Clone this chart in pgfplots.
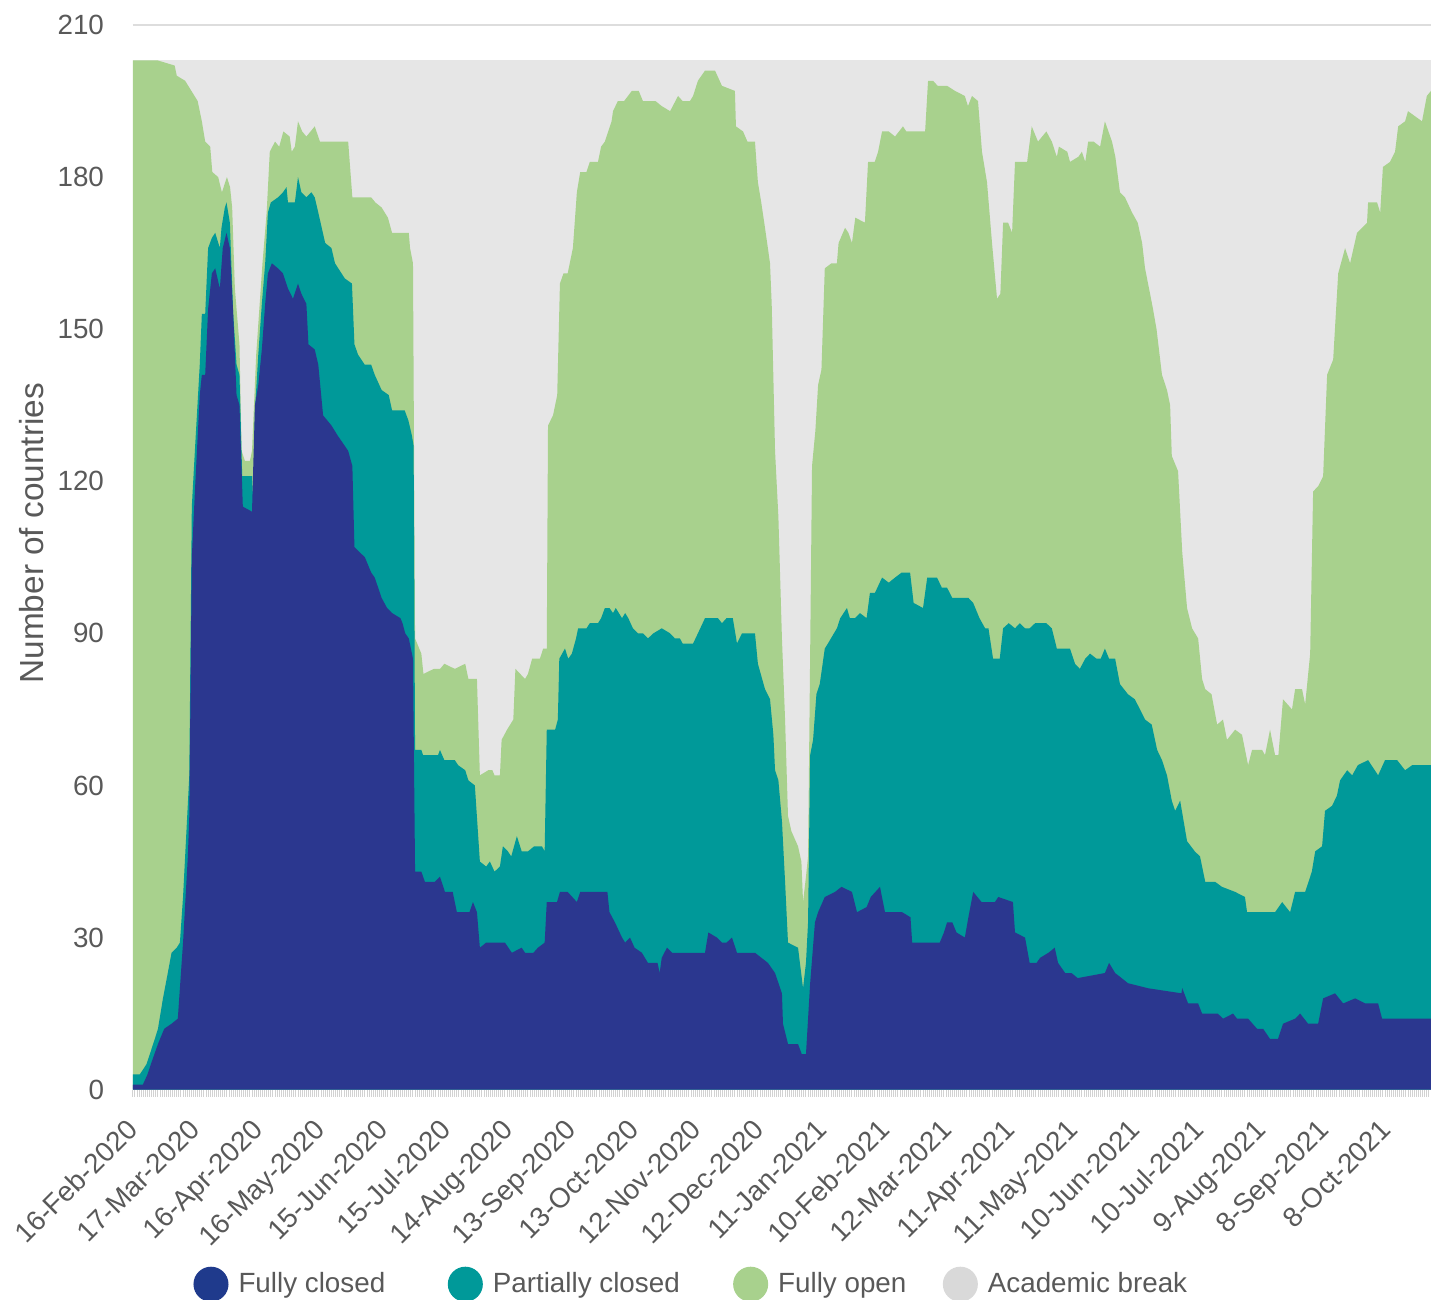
\documentclass[border=0pt]{standalone}
\usepackage{pgfplots}
\pgfplotsset{compat=1.18}
\usepackage{fontspec}
\setmainfont{Liberation Sans}
\usetikzlibrary{calc}
\definecolor{fcblue}{HTML}{2B378F}
\definecolor{pcteal}{HTML}{009999}
\definecolor{fogreen}{HTML}{A8D18D}
\definecolor{abgray}{HTML}{E6E6E6}
\definecolor{fcbluelegend}{HTML}{1F3A8C}
\definecolor{abgraylegend}{HTML}{D9D9D9}
\definecolor{labelgray}{HTML}{595959}
\definecolor{gridgray}{HTML}{DDDDDD}
\begin{document}
\begin{tikzpicture}
\begin{axis}[
  scale only axis, width=467pt, height=383pt,
  xmin=0, xmax=621, ymin=0, ymax=210,
  axis x line*=bottom, axis y line*=left,
  x axis line style={draw=gray!40},
  y axis line style={draw=none},
  ytick={0,30,...,210},
  ymajorgrids, grid style={draw=gridgray, line width=0.6pt},
  ytick style={draw=none},
  xtick={0,30,...,600},
  xticklabels={16-Feb-2020,17-Mar-2020,16-Apr-2020,16-May-2020,15-Jun-2020,15-Jul-2020,14-Aug-2020,13-Sep-2020,13-Oct-2020,12-Nov-2020,12-Dec-2020,11-Jan-2021,10-Feb-2021,12-Mar-2021,11-Apr-2021,11-May-2021,10-Jun-2021,10-Jul-2021,9-Aug-2021,8-Sep-2021,8-Oct-2021},
  minor xtick={0,1,...,621},
  tick align=outside,
  major tick length=2.6pt, minor tick length=2.6pt,
  xtick style={draw=gray!35, line width=0.35pt},
  minor tick style={draw=gray!35, line width=0.35pt},
  /pgf/number format/assume math mode=true,
  yticklabel style={font=\fontsize{10}{12}\selectfont, text=labelgray, inner sep=0pt, xshift=-7.6pt},
  xticklabel style={font=\fontsize{10}{12}\selectfont, text=labelgray, xshift=-2.9pt, yshift=-7.2pt, rotate=45, anchor=north east, inner sep=0pt},
  ylabel={Number of countries},
  ylabel style={font=\fontsize{12}{14}\selectfont, text=labelgray, at={(axis description cs:-0.0778,0.5226)}, anchor=center},
  legend style={at={(0.4318,0)}, anchor=center, yshift=-70pt, draw=none, fill=none,
    legend columns=4, font=\fontsize{10}{12}\selectfont, text=labelgray,
    /tikz/every even column/.append style={column sep=11.3pt}},
]
\addlegendimage{only marks, mark=*, mark size=6.1pt, color=fcbluelegend}
\addlegendentry{\hspace{1.8pt}Fully closed\kern9.4pt}
\addlegendimage{only marks, mark=*, mark size=6.1pt, color=pcteal}
\addlegendentry{\hspace{1.8pt}Partially closed\kern6.1pt}
\addlegendimage{only marks, mark=*, mark size=6.1pt, color=fogreen}
\addlegendentry{\hspace{1.8pt}Fully open}
\addlegendimage{only marks, mark=*, mark size=6.1pt, color=abgraylegend}
\addlegendentry{\hspace{1.8pt}Academic break}
% Academic break (total of all countries)
\addplot[fill=abgray, draw=none, forget plot] coordinates {(0,203)(621,203)} \closedcycle;
% Fully open + partially closed + fully closed
\addplot[fill=fogreen, draw=none, forget plot] coordinates {
(0,203)(12,203)(20,202)(21,200)(25,199)(28,197)(31,195)(33,191)(34.6,187)(37,186)(38,181)(40.8,180)(42.6,177)(45,180)(46.5,178)(47.5,174)(48.8,158)(51,147)(52,126)(53.6,124)(56,124)(57,126)(59,145)(62,163)(64,173)(65.5,185)(68,187)(70,186)(72,189)(75,188)(76,185)(77.5,186)(79,191)(81,189)(83,188)(85,189)(87,190)(89.5,187)(103,187)(105,176)(114,176)(116,175)(119,174)(122,172)(124,169)(132,169)(132.6,166)(134,163)(135,89)(138,86)(139,82)(144,83)(147,83)(149,84)(154,83)(159,84)(160.5,81)(164.6,81)(166,62)(170,63)(172,63)(173,62)(175.6,62)(176.4,69)(179,71)(182,73)(183,83)(187.6,81)(189,82)(191,85)(194.7,85)(196.3,87)(198,87)(198.6,131)(201,133)(203,137)(204.3,159)(206,161)(208,161)(210.5,166)(212.4,177)(214,181)(217,181)(218.6,183)(222.5,183)(224,186)(225.8,187)(229,191)(229.7,193)(232,195)(235,195)(238.7,197)(242,197)(244,195)(250,195)(253,194)(257,193)(260.8,196)(263,195)(266.5,195)(268,196)(270.3,199)(273.7,201)(278.5,201)(281.8,198)(288,197)(288.5,190)(291.9,189)(294,187)(297.6,187)(299,179)(300.6,175)(302.4,170)(304.8,163)(305.6,155)(307.2,126)(308.8,113)(310.5,89)(312,73)(313.4,54)(315,51)(318.2,48)(319.8,45)(320.6,37)(322,42)(323,46)(324,86)(324.9,123)(326.5,130)(327.8,139)(329.4,142)(331,162)(334.2,163)(336.8,163)(337.6,167)(340.7,170)(342.3,169)(344,167)(345.6,172)(350.2,171)(351.7,183)(354.9,183)(356.5,185)(358.4,189)(361.6,189)(364.6,188)(368.4,190)(370,189)(379,189)(380.4,199)(382.8,199)(385,198)(389.5,198)(393.3,197)(398,196)(399.5,194)(401.4,196)(404.3,195)(406.2,185)(408.6,179)(411,167)(413.4,156)(415,157)(416.3,171)(418.7,171)(420.6,169)(422,183)(427.8,183)(430,190)(433,187)(437,189)(439.6,187)(442,184)(443,186)(447,185)(448.3,183)(452.3,184)(454,185)(455.6,183)(457,187)(459.6,187)(462.7,186)(465,191)(468.4,187)(470,184)(472.2,177)(474.6,176)(478,173)(480.7,171)(482.8,167)(484.2,162)(486.6,157)(488,154)(489.7,150)(492.3,141)(494.7,138)(496.2,135)(497,125)(500,122)(502,106)(504.3,95)(506.7,91)(509.6,89)(511.5,81)(513,79)(516,78)(518.7,72)(521.5,73)(523.4,69)(527.3,71)(530.6,70)(533.5,64)(535.4,67)(540.2,67)(541.6,66)(544,71)(546.4,66)(548,66)(550.2,77)(554.5,75)(556,79)(559.3,79)(560.8,76)(563.2,86)(564.6,118)(567,119)(569.4,121)(571.3,141)(574.2,144)(576.6,161)(579.9,166)(582.3,163)(585.6,169)(590.4,171)(590.9,175)(595.2,175)(596.7,173)(598,182)(601.4,183)(603.8,185)(605.3,190)(608.6,191)(610,193)(616.7,191)(619,196)(621,197)
} \closedcycle;
% Partially closed + fully closed
\addplot[fill=pcteal, draw=none, forget plot] coordinates {
(0,3)(3.3,3)(6.5,5)(10.5,10)(12,12)(14.4,18)(16.7,23)(18.5,27)(21,28)(22.5,29)(24,38)(26,54)(27,62)(28.2,115)(29.8,127)(32,143)(33,153)(34.6,153)(36,166)(37.8,168)(39.4,169)(41.6,166)(42.4,170)(44,174)(44.8,175)(46.4,171)(48,153)(49.6,143)(51,141)(52.3,121)(57,121)(57.7,115)(58.4,134)(60,145)(61.7,155)(63.3,163)(64.6,173)(66,175)(69.4,176)(71.8,177)(73.5,178)(74.2,175)(77.5,175)(79,180)(80.6,177)(83,176)(85.4,177)(87,176)(88.7,173)(92,167)(95,166)(96.7,163)(101.4,160)(104.8,159)(106,147)(107.7,145)(110.9,143)(114,143)(115.7,141)(119,138)(122.4,137)(124,134)(130,134)(131.8,132)(133.5,129)(134.3,127)(135,67)(138,67)(138.8,66)(146,66)(146.9,67)(149,65)(154,65)(155.6,64)(159,63)(160.5,61)(163.6,60)(166,45)(169,44)(170.8,45)(173,43)(175.6,44)(177,48)(179.4,47)(181,46)(183.7,50)(186,47)(189,47)(192,48)(195.7,48)(197,47)(198,71)(202,71)(203.3,73)(204,85)(206.7,87)(208.3,85)(210,86)(212,89)(213,91)(217,91)(218.6,92)(222.5,92)(224,93)(225.8,95)(228,95)(229.7,94)(231,95)(234,93)(235.5,94)(237,93)(239.2,91)(241.6,90)(244,90)(246.4,89)(249,90)(253,91)(257,90)(259.3,89)(261.7,89)(263,88)(268,88)(270.3,90)(273.7,93)(279.9,93)(281.8,92)(284,93)(287,93)(289,88)(291.4,90)(297.6,90)(299,84)(302.4,79)(304.8,77)(306.4,70)(307.2,63)(308.8,61)(310.5,53)(312,41)(313.4,29)(318.2,28)(320.6,20)(322,25)(323,33)(324,66)(325.4,69)(327,78)(328.6,80)(331,87)(332.5,88)(336.8,91)(338.4,93)(341.6,95)(343,93)(345.5,93)(347.8,94)(351,93)(352.6,98)(355,98)(358.4,101)(361.6,100)(364.6,101)(367.8,102)(371.8,102)(373.5,96)(378,95)(380,101)(384.7,101)(387,99)(389.5,99)(392,97)(399.7,97)(402,96)(405,93)(407.7,91)(409.3,91)(411.5,85)(414.7,85)(416.3,91)(419,92)(422,91)(424.3,92)(426.8,91)(429,91)(431.6,92)(437,92)(439.6,91)(442,87)(448.3,87)(450.7,84)(453,83)(455.6,85)(457.9,86)(461,85)(463,85)(465,87)(467,85)(469.9,85)(472.2,80)(476,78)(479.3,77)(481.8,75)(484.2,73)(487.4,72)(490,67)(492.3,65)(494.7,62)(497,57)(498.6,55)(501,57)(504.3,49)(508,47)(510.5,46)(513,41)(517.7,41)(521,40)(527.3,39)(532,38)(533,35)(546.4,35)(549.8,37)(553.6,35)(556,39)(560.8,39)(564,43)(565.6,47)(568.9,48)(570.3,55)(573.7,56)(576,58)(577.5,61)(580.9,63)(583.3,62)(586,64)(590.9,65)(595.7,62)(599,65)(604.8,65)(608.6,63)(612,64)(621,64)
} \closedcycle;
% Fully closed
\addplot[fill=fcblue, draw=none, forget plot] coordinates {
(0,1)(4.8,1)(7,3)(8.6,5)(12,9)(15,12)(18.5,13)(21.5,14)(24,29)(26.3,46)(27,54)(28.2,105)(29.8,119)(32,137)(33,141)(34.6,141)(36,154)(37.8,161)(39.4,162)(41.6,158)(43,166)(44.8,169)(46.4,166)(48,153)(49.6,137)(51,135)(52.6,115)(57,114)(58.4,135)(60,139)(61.7,146)(63.3,155)(64.6,161)(66.5,163)(69.4,162)(71.8,161)(74.2,158)(76.6,156)(79,159)(80.6,157)(83,155)(84,147)(87,146)(88.7,143)(91,133)(95,131)(98,129)(103,126)(105,123)(106,107)(111,105)(114,102)(115.7,101)(119,97)(121.6,95)(124,94)(128,93)(129,92)(130.3,90)(132,89)(134,85)(135,43)(138,43)(139.7,41)(144.5,41)(146.9,42)(149.3,39)(153,39)(155,35)(161,35)(162.7,37)(164.6,35)(166,28)(169,29)(178,29)(181.3,27)(186,28)(187.6,27)(191.6,27)(193.8,28)(197,29)(198,37)(202.9,37)(204.3,39)(208,39)(212.4,37)(214,39)(227,39)(228,35)(230.6,33)(234,30)(235.5,29)(237.8,30)(240,28)(243.5,27)(246.4,25)(251,25)(252,23)(253,26)(255.5,28)(258,27)(273.7,27)(275.3,31)(279.4,30)(281.8,29)(284,29)(286.6,30)(289,27)(297.6,27)(303.8,25)(307.2,23)(310.5,19)(311,13)(313.4,9)(318.2,9)(320,7)(322,7)(324,21)(326.3,33)(327.8,35)(331,38)(335.9,39)(339,40)(344,39)(346.4,35)(351,36)(353,38)(357.4,40)(359.8,35)(368,35)(372,34)(372.8,29)(386,29)(388,31)(389.5,33)(392,33)(394,31)(398,30)(399.7,34)(402,39)(406,37)(412.4,37)(414,38)(421,37)(422,31)(426.8,30)(429,25)(432.3,25)(434,26)(438,27)(441,28)(442.6,25)(446,23)(449,23)(452,22)(465,23)(467,25)(469.9,23)(473,22)(476,21)(485.6,20)(501.6,19)(502,20)(504.8,17)(509.6,17)(511.5,15)(519,15)(521.5,14)(526.3,15)(528.2,14)(533.5,14)(537.8,12)(540.7,12)(544,10)(547.8,10)(550.2,13)(556,14)(558.4,15)(562.2,13)(567,13)(569.4,18)(575.1,19)(579,17)(584.7,18)(589.5,17)(595.7,17)(597.6,14)(621,14)
} \closedcycle;
\end{axis}
\pgfresetboundingbox
\path[use as bounding box] ($(current axis.south west)+(-47.8pt,-75.5pt)$) rectangle ($(current axis.north east)+(0pt,9pt)$);
\end{tikzpicture}
\end{document}
